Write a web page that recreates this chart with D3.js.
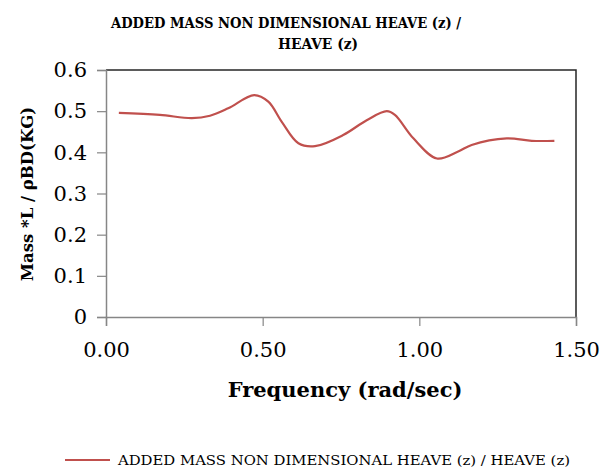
<!DOCTYPE html>
<html>
<head>
<meta charset="utf-8">
<script src="https://cdn.jsdelivr.net/npm/d3@7"></script>
<style>
  html, body { margin: 0; padding: 0; background: #fff; }
  svg { display: block; }
</style>
</head>
<body>
<svg id="chart" width="613" height="469"></svg>
<script>
// Added mass (non-dimensional) for heave vs. wave frequency
const frequency = [0.041, 0.172, 0.274, 0.332, 0.390, 0.473, 0.518, 0.561, 0.614, 0.667,
                   0.757, 0.832, 0.896, 0.922, 0.981, 1.056, 1.124, 1.167, 1.279, 1.359, 1.431];
const addedMass = [0.496, 0.491, 0.483, 0.489, 0.507, 0.539, 0.523, 0.474, 0.422, 0.415,
                   0.442, 0.478, 0.500, 0.491, 0.434, 0.385, 0.402, 0.418, 0.434, 0.428, 0.428];
const xTicks = [0, 0.5, 1.0, 1.5];
const yTicks = [0, 0.1, 0.2, 0.3, 0.4, 0.5, 0.6];
const titleLines = ["ADDED MASS NON DIMENSIONAL HEAVE (z) /", "HEAVE (z)"];
const seriesName = "ADDED MASS NON DIMENSIONAL HEAVE (z) / HEAVE (z)";
const xLabel = "Frequency (rad/sec)";
const yLabel = "Mass *L / ρBD(KG)";

const serif = "'DejaVu Serif', 'Liberation Serif', serif";
const lineColor = "#c0504d";
const axisGray = "#868686";

const svg = d3.select("#chart");
const plot = { left: 106, right: 576, top: 70, bottom: 317 };

const x = d3.scaleLinear().domain([0, 1.5]).range([plot.left, plot.right]);
const y = d3.scaleLinear().domain([0, 0.6]).range([plot.bottom, plot.top]);

// Frame: top and right edges
svg.append("path")
  .attr("d", `M${plot.left},${plot.top}H${plot.right}V${plot.bottom}`)
  .attr("fill", "none").attr("stroke", "#262626").attr("stroke-width", 1.5);

// Y axis
const yAxis = svg.append("g")
  .attr("transform", `translate(${plot.left},0)`)
  .call(d3.axisLeft(y).tickValues(yTicks).tickSize(9).tickPadding(10)
    .tickFormat(d => d === 0 ? "0" : d3.format(".1f")(d)));
yAxis.select(".domain").attr("stroke", axisGray).attr("stroke-width", 1.5);
yAxis.selectAll(".tick line").attr("stroke", axisGray).attr("stroke-width", 1.2);
yAxis.selectAll(".tick text").attr("font-family", serif).attr("font-size", 21).attr("fill", "#000");

// X axis
const xAxis = svg.append("g")
  .attr("transform", `translate(0,${plot.bottom})`)
  .call(d3.axisBottom(x).tickValues(xTicks).tickSize(9).tickPadding(16)
    .tickFormat(d3.format(".2f")));
xAxis.select(".domain").attr("stroke", axisGray).attr("stroke-width", 1.5);
xAxis.selectAll(".tick line").attr("stroke", axisGray).attr("stroke-width", 1.2);
xAxis.selectAll(".tick text").attr("font-family", serif).attr("font-size", 21).attr("fill", "#000");

// Series line
const line = d3.line()
  .x((d, i) => x(frequency[i]))
  .y(d => y(d))
  .curve(d3.curveCatmullRom.alpha(0.5));
svg.append("path")
  .datum(addedMass)
  .attr("d", line)
  .attr("fill", "none")
  .attr("stroke", lineColor)
  .attr("stroke-width", 2.2);

// Title (two wrapped lines)
const titleX = [286, 318];
const titleW = [350, 80];
svg.append("g").selectAll("text").data(titleLines).join("text")
  .attr("x", (d, i) => titleX[i]).attr("y", (d, i) => 28 + i * 21)
  .attr("text-anchor", "middle")
  .attr("font-family", serif).attr("font-weight", "bold").attr("font-size", 15)
  .attr("textLength", (d, i) => titleW[i]).attr("lengthAdjust", "spacingAndGlyphs")
  .text(d => d);

// Axis titles
svg.append("text")
  .attr("x", 345).attr("y", 397)
  .attr("text-anchor", "middle")
  .attr("font-family", serif).attr("font-weight", "bold").attr("font-size", 21)
  .text(xLabel);
svg.append("text")
  .attr("transform", `translate(33,194) rotate(-90)`)
  .attr("text-anchor", "middle")
  .attr("font-family", serif).attr("font-weight", "bold").attr("font-size", 16.5)
  .text(yLabel);

// Legend
const legend = svg.append("g");
legend.append("line")
  .attr("x1", 65).attr("x2", 110).attr("y1", 460).attr("y2", 460)
  .attr("stroke", lineColor).attr("stroke-width", 2.2);
legend.append("text")
  .attr("x", 118).attr("y", 465)
  .attr("font-family", serif).attr("font-size", 13.5)
  .attr("textLength", 452).attr("lengthAdjust", "spacingAndGlyphs")
  .text(seriesName);
</script>
</body>
</html>
